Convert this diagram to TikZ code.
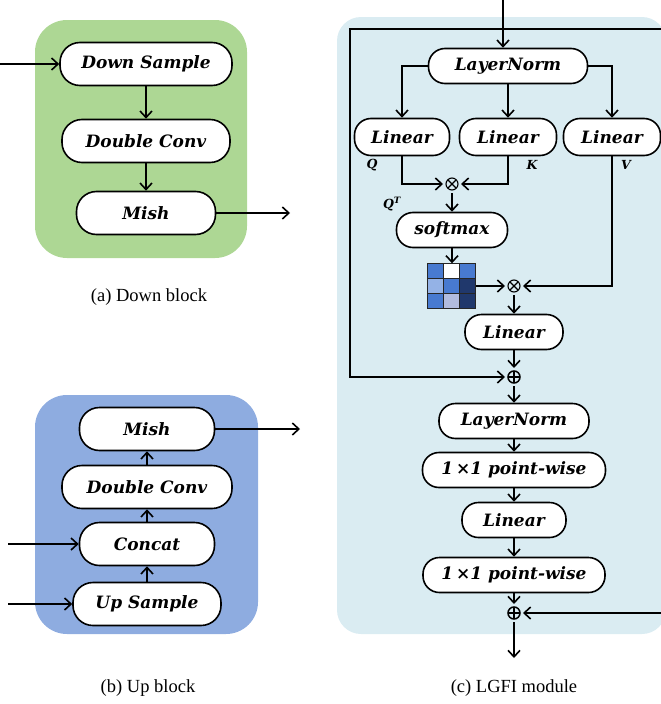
\documentclass[tikz,border=0pt]{standalone}
\usepackage{fontspec}
\setmainfont{Liberation Serif}
\newfontfamily\boxfont{DejaVu Serif}
\usetikzlibrary{arrows.meta,positioning,calc}

\definecolor{downgreen}{RGB}{173,215,148}
\definecolor{upblue}{RGB}{142,172,224}
\definecolor{lgfibg}{RGB}{218,236,242}
\definecolor{cellmid}{RGB}{72,122,208}
\definecolor{celllight}{RGB}{148,178,230}
\definecolor{celldark}{RGB}{32,56,108}
\definecolor{cellpale}{RGB}{178,188,222}

\begin{document}
\begin{tikzpicture}[x=1pt,y=-1pt,
  blk/.style={draw=black, line width=1.6pt, fill=white, rounded corners=20pt,
    minimum height=43pt, inner sep=0pt, font=\boxfont\bfseries\itshape\fontsize{17}{20}\selectfont},
  blk2/.style={blk, rounded corners=16.5pt, minimum height=35pt},
  arr/.style={-{Straight Barb[length=6.5pt,width=12pt]}, line width=1.6pt},
  mulop/.style={circle, draw=black, line width=1.1pt, minimum size=12pt, inner sep=0pt, outer sep=3pt,
    path picture={\draw[line width=1.1pt] (path picture bounding box.north west) -- (path picture bounding box.south east)
      (path picture bounding box.north east) -- (path picture bounding box.south west);}},
  addop/.style={circle, draw=black, line width=1.5pt, minimum size=12pt, inner sep=0pt, outer sep=3pt,
    path picture={\draw[line width=1.5pt] (path picture bounding box.north) -- (path picture bounding box.south)
      (path picture bounding box.east) -- (path picture bounding box.west);}},
  lbl/.style={font=\boxfont\bfseries\itshape\fontsize{12.5}{14}\selectfont},
  captxt/.style={font=\fontsize{18.5}{20}\selectfont}]

\clip (0,0) rectangle (661,704);

% Backgrounds
\fill[downgreen, rounded corners=32pt] (35,20) rectangle (247,258);
\fill[upblue, rounded corners=32pt] (35,395) rectangle (258,634);
\fill[lgfibg, rounded corners=24pt] (337,17) rectangle (666,634);

% (a) Down block
\node[blk, minimum width=172pt] (ds) at (146,64) {Down Sample};
\node[blk, minimum width=168pt] (dc) at (146,141) {Double Conv};
\node[blk, minimum width=139pt] (dm) at (146,213) {Mish};
\coordinate (dsin) at (0,64);
\coordinate (dmout) at (290,213);
\draw[arr] (dsin) -- (ds);
\draw[arr] (ds) -- (dc);
\draw[arr] (dc) -- (dm);
\draw[arr] (dm) -- (dmout);
\node[captxt] (capa) at (149,297) {(a) Down block};

% (b) Up block
\node[blk, minimum width=135pt] (um) at (147,429) {Mish};
\node[blk, minimum width=170pt] (udc) at (147,487) {Double Conv};
\node[blk, minimum width=135pt] (uc) at (147,544) {Concat};
\node[blk, minimum width=148pt] (us) at (147,604) {Up Sample};
\coordinate (ucin) at (8,544);
\coordinate (usin) at (8,604);
\coordinate (umout) at (300,429);
\draw[arr] (us) -- (uc);
\draw[arr] (uc) -- (udc);
\draw[arr] (udc) -- (um);
\draw[arr] (ucin) -- (uc);
\draw[arr] (usin) -- (us);
\draw[arr] (um) -- (umout);
\node[captxt] (capb) at (148,688) {(b) Up block};

% (c) LGFI module
\node[blk2, minimum width=159pt] (ln1) at (508,66) {LayerNorm};
\node[blk2, minimum width=95pt, minimum height=37pt] (lq) at (402,137) {Linear};
\node[blk2, minimum width=97pt, minimum height=37pt] (lk) at (508,137) {Linear};
\node[blk2, minimum width=97pt, minimum height=37pt] (lv) at (612,137) {Linear};
\node[mulop] (mul1) at (452,184) {};
\node[blk2, minimum width=111pt] (sm) at (452,230) {softmax};
\node[inner sep=0pt, minimum width=48pt, minimum height=45pt] (att) at (452,286) {};
\node[mulop] (mul2) at (514,286) {};
\node[blk2, minimum width=98pt] (lo) at (514,332) {Linear};
\node[addop] (add1) at (514,377) {};
\node[blk2, minimum width=150pt] (ln2) at (514,421) {LayerNorm};
\node[blk2, minimum width=183pt] (pw1) at (514,470) {1\,×1 point-wise};
\node[blk2, minimum width=104pt] (lm) at (514,520) {Linear};
\node[blk2, minimum width=182pt] (pw2) at (514,575) {1\,×1 point-wise};
\node[addop] (add2) at (514,613) {};

\node[lbl] (ql) at (372,165) {Q};
\node[lbl] (kl) at (532,165) {K};
\node[lbl] (vl) at (626,165) {V};
\node[lbl] (qtl) at (392,204) {Q\textsuperscript{T}};

% attention map
\foreach \c [count=\i from 0] in {cellmid,white,cellmid,celllight,cellmid,celldark,cellmid,cellpale,celldark}
  \filldraw[fill=\c, draw=black!85, line width=1.2pt]
    ($(att.north west)+({16*mod(\i,3)},{15*int(\i/3)})$) rectangle ++(16,15);

% input and skips
\coordinate (cin) at (503,0);
\coordinate (sk) at (503,29);
\coordinate (skl) at (350,29);
\coordinate (skr) at (670,29);
\coordinate (cout) at (514,658);
\draw[arr] (cin) -- (cin |- ln1.north);
\draw[arr] (sk) -- (skl) |- (add1);
\draw[arr] (sk) -- (skr) |- (add2);

% branches
\draw[arr] (ln1.west) -| (lq);
\draw[arr] (ln1) -- (lk);
\draw[arr] (ln1.east) -| (lv);
\draw[arr] (lq) |- (mul1);
\draw[arr] (lk) |- (mul1);
\draw[arr] (mul1) -- (sm);
\draw[arr] (sm) -- (att);
\draw[arr] (att) -- (mul2);
\draw[arr] (lv) |- (mul2);
\draw[arr] (mul2) -- (lo);
\draw[arr] (lo) -- (add1);
\draw[arr] (add1) -- (ln2);
\draw[arr] (ln2) -- (pw1);
\draw[arr] (pw1) -- (lm);
\draw[arr] (lm) -- (pw2);
\draw[arr] (pw2) -- (add2);
\draw[arr] (add2) -- (cout);
\node[captxt] (capc) at (514,688) {(c) LGFI module};

\end{tikzpicture}
\end{document}
